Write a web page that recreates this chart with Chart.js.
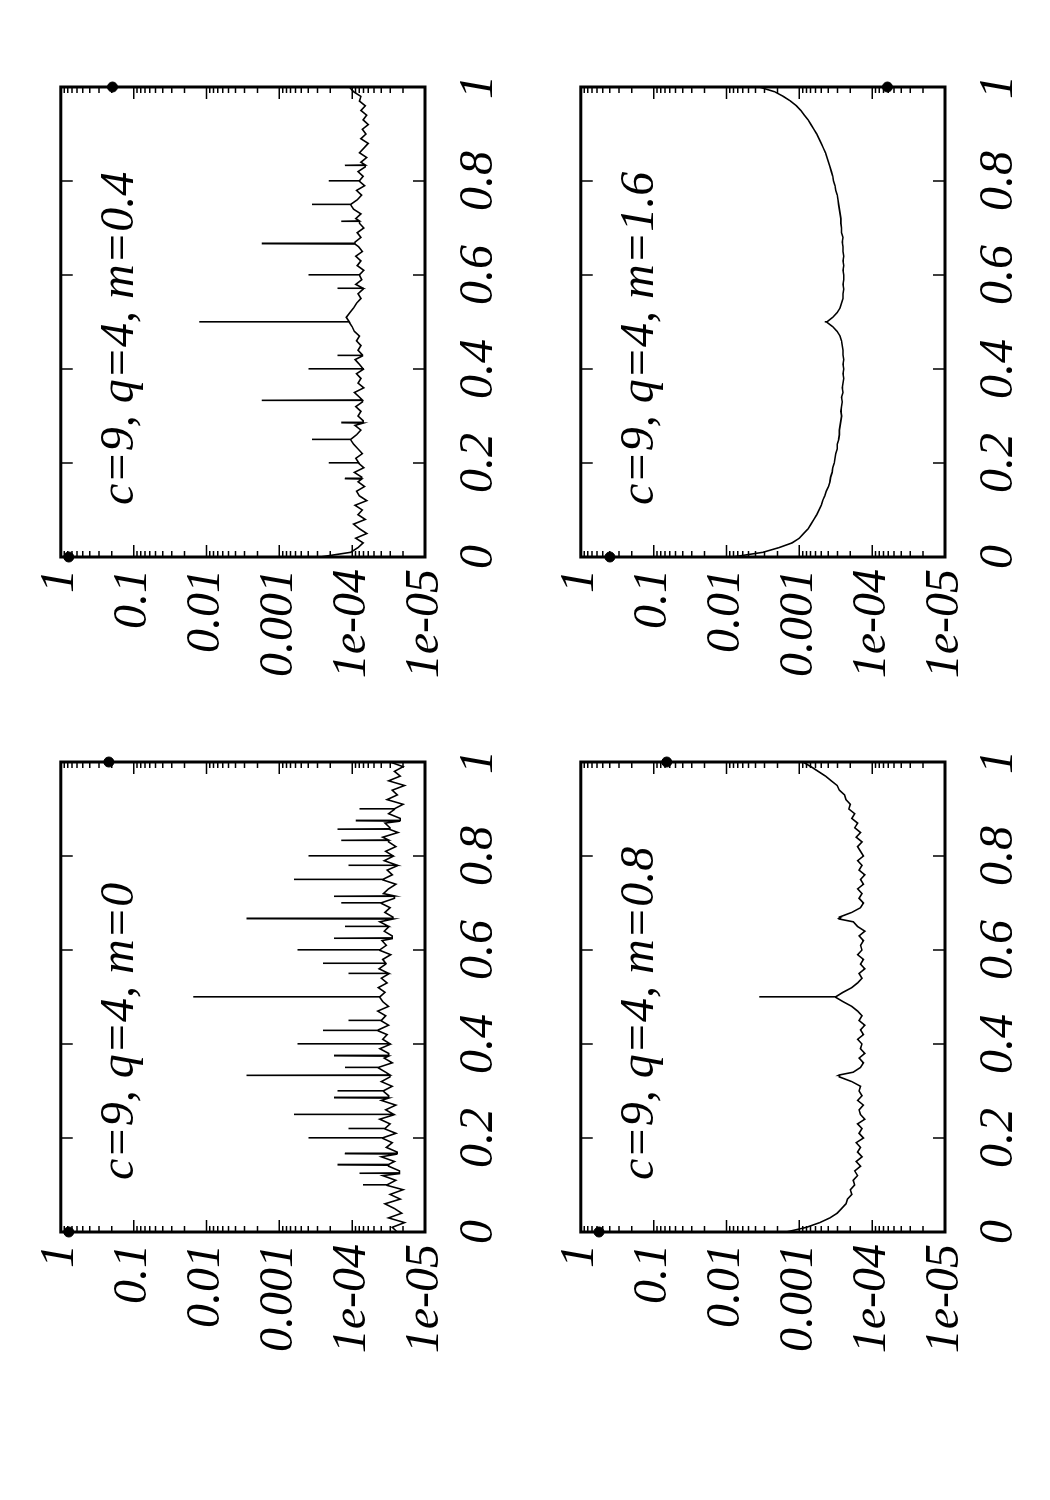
<!DOCTYPE html>
<html>
<head>
<meta charset="utf-8">
<script src="https://cdn.jsdelivr.net/npm/chart.js@4.4.0/dist/chart.umd.min.js"></script>
<style>
  body { margin: 0; background: #fff; width: 1050px; height: 1500px; position: relative; overflow: hidden; }
  .panel { position: absolute; left: 0; top: 0; width: 658px; height: 495px; transform-origin: 0 0; }
</style>
</head>
<body>
<div class="panel" style="transform: translate(20px,1382px) rotate(-90deg)"><canvas id="c0" width="658" height="495"></canvas></div>
<div class="panel" style="transform: translate(20px,707px) rotate(-90deg)"><canvas id="c1" width="658" height="495"></canvas></div>
<div class="panel" style="transform: translate(540px,1382px) rotate(-90deg)"><canvas id="c2" width="658" height="495"></canvas></div>
<div class="panel" style="transform: translate(540px,707px) rotate(-90deg)"><canvas id="c3" width="658" height="495"></canvas></div>
<script>
// ---------- Data (values stored as log10 exponents) ----------
const xTicks = [0, 0.2, 0.4, 0.6, 0.8, 1];
const xTickLabels = ["0", "0.2", "0.4", "0.6", "0.8", "1"];
const yTicks = [1, 0.1, 0.01, 0.001, 1e-4, 1e-5];
const yTickLabels = ["1", "0.1", "0.01", "0.001", "1e-04", "1e-05"];
const titles = ["c=9, q=4, m=0", "c=9, q=4, m=0.4", "c=9, q=4, m=0.8", "c=9, q=4, m=1.6"];

// curve on grid x = 0, 0.01, ..., 1
const curveM0 = [
  -4.62,-4.55,-4.72,-4.5,-4.68,-4.58,-4.45,-4.66,-4.52,-4.7,-4.48,
  -4.6,-4.42,-4.65,-4.5,-4.58,-4.4,-4.62,-4.47,-4.55,-4.42,
  -4.6,-4.45,-4.52,-4.38,-4.57,-4.46,-4.6,-4.4,-4.5,-4.43,
  -4.55,-4.4,-4.52,-4.46,-4.36,-4.55,-4.44,-4.5,-4.38,-4.52,
  -4.42,-4.48,-4.36,-4.5,-4.4,-4.46,-4.35,-4.5,-4.42,-4.38,
  -4.45,-4.36,-4.48,-4.4,-4.5,-4.37,-4.46,-4.42,-4.53,-4.38,
  -4.47,-4.41,-4.55,-4.44,-4.5,-4.38,-4.56,-4.45,-4.52,-4.4,
  -4.58,-4.43,-4.5,-4.6,-4.42,-4.55,-4.48,-4.62,-4.44,-4.56,
  -4.46,-4.6,-4.5,-4.42,-4.63,-4.52,-4.45,-4.66,-4.5,-4.58,
  -4.7,-4.48,-4.62,-4.55,-4.72,-4.5,-4.66,-4.58,-4.7,-4.52,-4.6
];
const curveM04 = [
  -3.56,-3.98,-4.08,-4.15,-4.05,-4.2,-4.1,-4.02,-4.18,-4.08,-4.14,
  -4.04,-4.2,-4.1,-4.06,-4.17,-4.08,-4.13,-4.03,-4.16,-4.09,
  -4.05,-4.14,-4.08,-4.02,-3.98,-4.06,-4.12,-4.04,-4.15,-4.08,
  -4.12,-4.05,-4.14,-4.1,-4.03,-4.16,-4.08,-4.12,-4.06,-4.15,
  -4.1,-4.04,-4.14,-4.08,-4.12,-4.06,-4.1,-4.03,-4.0,-3.96,
  -3.92,-3.97,-4.02,-4.06,-4.12,-4.08,-4.15,-4.05,-4.13,-4.1,
  -4.16,-4.07,-4.12,-4.05,-4.14,-4.09,-4.04,-4.12,-4.07,-4.16,
  -4.1,-4.05,-4.12,-4.02,-3.98,-4.07,-4.13,-4.06,-4.17,-4.1,
  -4.15,-4.08,-4.18,-4.12,-4.2,-4.1,-4.16,-4.22,-4.12,-4.19,
  -4.14,-4.22,-4.15,-4.2,-4.12,-4.18,-4.1,-4.12,-4.02,-3.96,-3.7
];
const curveM08 = [
  -2.82,-3.1,-3.28,-3.42,-3.52,-3.58,-3.64,-3.66,-3.72,-3.7,-3.76,
  -3.74,-3.8,-3.76,-3.84,-3.78,-3.86,-3.8,-3.84,-3.78,-3.88,
  -3.82,-3.86,-3.8,-3.9,-3.84,-3.82,-3.88,-3.8,-3.86,-3.82,
  -3.84,-3.72,-3.55,-3.74,-3.84,-3.88,-3.82,-3.9,-3.84,-3.86,
  -3.8,-3.88,-3.84,-3.9,-3.82,-3.86,-3.8,-3.72,-3.6,-3.5,
  -3.6,-3.72,-3.8,-3.86,-3.82,-3.9,-3.84,-3.88,-3.8,-3.86,
  -3.84,-3.88,-3.82,-3.9,-3.8,-3.74,-3.55,-3.72,-3.84,-3.88,
  -3.82,-3.86,-3.8,-3.88,-3.84,-3.9,-3.82,-3.86,-3.8,-3.88,
  -3.84,-3.8,-3.86,-3.78,-3.84,-3.76,-3.8,-3.72,-3.76,-3.68,
  -3.7,-3.64,-3.62,-3.55,-3.52,-3.44,-3.36,-3.26,-3.16,-3.05,-2.95
];
const curveM16 = [
  -2.08,-2.5,-2.72,-2.9,-3.0,-3.06,-3.12,-3.16,-3.2,-3.24,-3.27,
  -3.3,-3.32,-3.35,-3.37,-3.4,-3.42,-3.43,-3.45,-3.46,-3.48,
  -3.49,-3.5,-3.52,-3.52,-3.54,-3.55,-3.55,-3.56,-3.57,-3.58,
  -3.57,-3.58,-3.59,-3.58,-3.6,-3.59,-3.6,-3.61,-3.6,-3.61,
  -3.6,-3.61,-3.6,-3.6,-3.59,-3.58,-3.56,-3.52,-3.46,-3.38,
  -3.46,-3.52,-3.56,-3.58,-3.6,-3.6,-3.61,-3.6,-3.61,-3.61,
  -3.6,-3.61,-3.6,-3.61,-3.6,-3.6,-3.59,-3.6,-3.58,-3.58,
  -3.57,-3.57,-3.56,-3.55,-3.54,-3.53,-3.52,-3.5,-3.49,-3.47,
  -3.46,-3.44,-3.42,-3.4,-3.38,-3.36,-3.33,-3.3,-3.27,-3.24,
  -3.2,-3.16,-3.12,-3.07,-3.02,-2.96,-2.88,-2.78,-2.66,-2.45,-2.08
];

// spikes: [x, log10 of tip]
const spikesM0 = [
  [0.5,-1.82],[0.3333,-2.55],[0.6667,-2.55],[0.25,-3.2],[0.75,-3.2],
  [0.2,-3.4],[0.8,-3.4],[0.4,-3.25],[0.6,-3.25],[0.1429,-3.8],[0.8571,-3.8],
  [0.4286,-3.6],[0.5714,-3.6],[0.2857,-3.75],[0.7143,-3.75],[0.1667,-3.9],
  [0.8333,-3.85],[0.375,-3.75],[0.625,-3.75],[0.125,-4.1],[0.875,-4.05],
  [0.3,-3.8],[0.7,-3.85],[0.45,-3.95],[0.55,-3.95],[0.35,-3.9],[0.65,-3.9],
  [0.9,-4.1],[0.1,-4.15],[0.22,-3.95],[0.78,-3.95]
];
const spikesM04 = [
  [0.5,-1.9],[0.3333,-2.76],[0.6667,-2.76],[0.25,-3.45],[0.75,-3.45],
  [0.2,-3.68],[0.8,-3.68],[0.4,-3.4],[0.6,-3.4],[0.4286,-3.8],[0.5714,-3.8],
  [0.2857,-3.85],[0.7143,-3.85],[0.1667,-3.9],[0.8333,-3.9]
];
const spikesM08 = [[0.5,-2.45],[0.3333,-3.54],[0.6667,-3.54]];
const spikesM16 = [[0.5,-3.35]];

// end dots: [x, log10 y]
const dotsM0 = [[0,-0.11],[1,-0.66]];
const dotsM04 = [[0,-0.11],[1,-0.71]];
const dotsM08 = [[0,-0.25],[1,-1.18]];
const dotsM16 = [[0,-0.4],[1,-4.21]];

// ---------- Helpers ----------
function buildLine(curve, spikes) {
  const pts = curve.map((e, i) => ({ x: i / 100, y: Math.pow(10, e) }));
  spikes.forEach(([sx, e]) => {
    const base = curve[Math.round(sx * 100)];
    pts.push({ x: sx - 0.0008, y: Math.pow(10, base) });
    pts.push({ x: sx, y: Math.pow(10, e) });
    pts.push({ x: sx + 0.0008, y: Math.pow(10, base) });
  });
  pts.sort((a, b) => a.x - b.x);
  return pts;
}

const FONT = "italic 48px 'Liberation Serif', 'DejaVu Serif', serif";

const framePlugin = {
  id: "frame",
  afterDraw(chart) {
    const { ctx, chartArea: a, scales } = chart;
    ctx.save();
    ctx.strokeStyle = "#000";
    ctx.lineWidth = 1.5;
    ctx.beginPath();
    xTicks.forEach(v => {
      const p = scales.x.getPixelForValue(v);
      ctx.moveTo(p, a.bottom); ctx.lineTo(p, a.bottom - 12);
      ctx.moveTo(p, a.top); ctx.lineTo(p, a.top + 12);
    });
    for (let d = -5; d <= 0; d++) {
      for (let k = 1; k <= 9; k++) {
        const v = k * Math.pow(10, d);
        if (v > 1) break;
        const p = scales.y.getPixelForValue(v);
        const len = k === 1 ? 12 : 6;
        ctx.moveTo(a.left, p); ctx.lineTo(a.left + len, p);
        ctx.moveTo(a.right, p); ctx.lineTo(a.right - len, p);
      }
    }
    ctx.stroke();
    ctx.lineWidth = 3;
    ctx.strokeRect(a.left, a.top, a.right - a.left, a.bottom - a.top);
    ctx.fillStyle = "#000";
    ctx.font = FONT;
    ctx.fillText(chart.options.plugins.frame.title, a.left + 52, a.top + 72);
    ctx.restore();
  }
};

function makeChart(id, title, curve, spikes, dots) {
  new Chart(document.getElementById(id), {
    type: "scatter",
    data: {
      datasets: [
        { data: buildLine(curve, spikes), showLine: true, borderColor: "#000", borderWidth: 1.6,
          pointRadius: 0, tension: 0, clip: 0 },
        { data: dots.map(([x, e]) => ({ x, y: Math.pow(10, e) })), pointRadius: 5,
          pointBackgroundColor: "#000", pointBorderColor: "#000", clip: false }
      ]
    },
    options: {
      responsive: false, animation: false, devicePixelRatio: 1,
      layout: { padding: { top: 10, right: 18, left: 0, bottom: 0 } },
      plugins: { legend: { display: false }, tooltip: { enabled: false }, frame: { title } },
      scales: {
        x: {
          type: "linear", min: 0, max: 1,
          grid: { display: false, drawTicks: false }, border: { display: false },
          afterBuildTicks: s => { s.ticks = xTicks.map(v => ({ value: v })); },
          afterFit: s => { s.height = 90; },
          ticks: { padding: 26, color: "#000", font: { family: "'Liberation Serif'", style: "italic", size: 48 },
            maxRotation: 0, autoSkip: false,
            callback: v => xTickLabels[xTicks.indexOf(v)] }
        },
        y: {
          type: "logarithmic", min: 1e-5, max: 1,
          grid: { display: false, drawTicks: false }, border: { display: false },
          afterBuildTicks: s => { s.ticks = yTicks.map(v => ({ value: v })); },
          afterFit: s => { s.width = 150; },
          ticks: { padding: 12, color: "#000", font: { family: "'Liberation Serif'", style: "italic", size: 48 },
            autoSkip: false,
            callback: v => yTickLabels[yTicks.findIndex(t => Math.abs(t - v) < t * 1e-6)] }
        }
      }
    },
    plugins: [framePlugin]
  });
}

// ---------- Init ----------
makeChart("c0", titles[0], curveM0, spikesM0, dotsM0);
makeChart("c1", titles[1], curveM04, spikesM04, dotsM04);
makeChart("c2", titles[2], curveM08, spikesM08, dotsM08);
makeChart("c3", titles[3], curveM16, spikesM16, dotsM16);
</script>
</body>
</html>
